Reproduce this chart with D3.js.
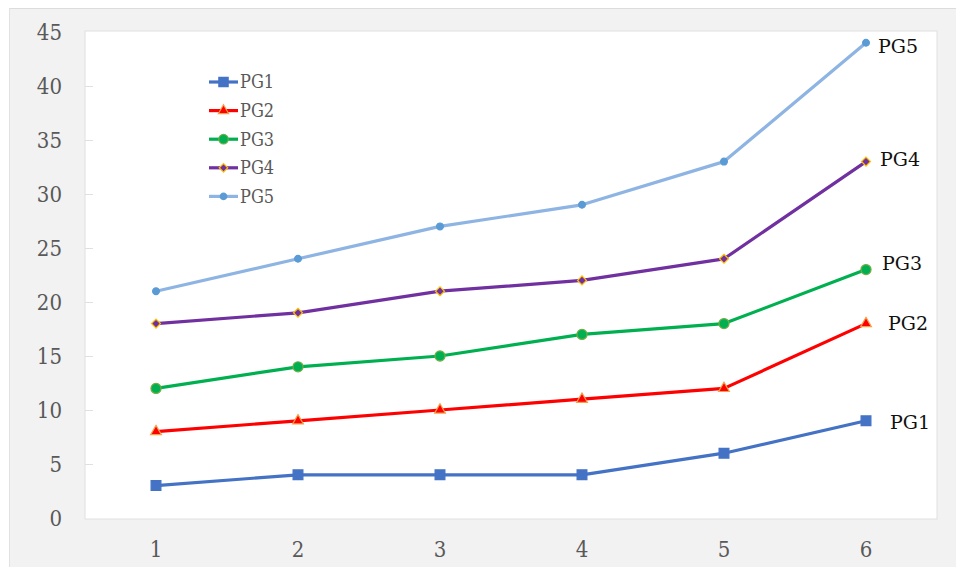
<!DOCTYPE html>
<html>
<head>
<meta charset="utf-8">
<script src="https://cdn.jsdelivr.net/npm/d3@7"></script>
<style>
  html, body { margin: 0; padding: 0; background: #ffffff; }
  svg { display: block; }
</style>
</head>
<body>
<svg id="chart" width="956" height="567"></svg>
<script>
// Categories along the x axis
const categories = ["1", "2", "3", "4", "5", "6"];
// Series values, one array per group
const pg1 = [3, 4, 4, 4, 6, 9];
const pg2 = [8, 9, 10, 11, 12, 18];
const pg3 = [12, 14, 15, 17, 18, 23];
const pg4 = [18, 19, 21, 22, 24, 33];
const pg5 = [21, 24, 27, 29, 33, 44];
const seriesNames = ["PG1", "PG2", "PG3", "PG4", "PG5"];
// Y axis tick values
const yTicks = [0, 5, 10, 15, 20, 25, 30, 35, 40, 45];

const styles = {
  PG1: { line: "#4472C4", fill: "#4472C4", stroke: "#4472C4", shape: "square", size: 96, rot: 0, labelDx: 24, labelDy: 2 },
  PG2: { line: "#FF0000", fill: "#FF0000", stroke: "#F4A04A", shape: "triangle", size: 50, rot: 0, labelDx: 22, labelDy: 0 },
  PG3: { line: "#00B050", fill: "#00B050", stroke: "#70AD47", shape: "circle", size: 80, rot: 0, labelDx: 16, labelDy: -6 },
  PG4: { line: "#7030A0", fill: "#7030A0", stroke: "#FFC000", shape: "square", size: 40, rot: 45, labelDx: 14, labelDy: -2 },
  PG5: { line: "#8EB4E3", fill: "#5B9BD5", stroke: "#5B9BD5", shape: "circle", size: 36, rot: 0, labelDx: 12, labelDy: 4 }
};
const seriesData = { PG1: pg1, PG2: pg2, PG3: pg3, PG4: pg4, PG5: pg5 };

const svg = d3.select("#chart");
const W = 956, H = 567;
const plot = { left: 85, right: 937, top: 31, bottom: 519 };
const axisFont = "'DejaVu Serif Condensed', 'DejaVu Serif', serif";
const labelFont = "'DejaVu Serif', serif";

// Gray chart panel
svg.append("rect").attr("x", 9).attr("y", 8).attr("width", W - 9).attr("height", H - 8)
  .attr("fill", "#f2f2f2");
svg.append("line").attr("x1", 9).attr("x2", W).attr("y1", 8.5).attr("y2", 8.5)
  .attr("stroke", "#dcdcdc").attr("stroke-width", 1);
svg.append("line").attr("x1", 9.5).attr("x2", 9.5).attr("y1", 8).attr("y2", H)
  .attr("stroke", "#e2e2e2").attr("stroke-width", 1);

// White plot area
svg.append("rect").attr("x", plot.left).attr("y", plot.top)
  .attr("width", plot.right - plot.left).attr("height", plot.bottom - plot.top)
  .attr("fill", "#ffffff").attr("stroke", "#e0e0e0").attr("stroke-width", 1);

const x = d3.scaleBand().domain(categories).range([plot.left, plot.right]);
const y = d3.scaleLinear().domain([0, 45]).range([518, 32]);
const cx = c => x(c) + x.bandwidth() / 2;

// Y axis labels and small ticks
const yAxis = svg.append("g").attr("transform", `translate(${plot.left},0)`)
  .call(d3.axisLeft(y).tickValues(yTicks).tickSize(0).tickPadding(23));
yAxis.select(".domain").remove();
yAxis.selectAll("text").attr("fill", "#595959").attr("font-family", axisFont)
  .attr("font-size", 22);
svg.append("g").selectAll("line").data(yTicks.slice(1, -1)).join("line")
  .attr("x1", plot.left).attr("x2", plot.left + 8)
  .attr("y1", d => Math.round(y(d)) + 0.5).attr("y2", d => Math.round(y(d)) + 0.5)
  .attr("stroke", "#e0e0e0");

// X axis labels
const xAxis = svg.append("g").attr("transform", `translate(0,${plot.bottom})`)
  .call(d3.axisBottom(x).tickSize(0).tickPadding(22));
xAxis.select(".domain").remove();
xAxis.selectAll("text").attr("fill", "#595959").attr("font-family", axisFont)
  .attr("font-size", 22);

const symbolType = { square: d3.symbolSquare, triangle: d3.symbolTriangle, circle: d3.symbolCircle };
const line = d3.line().x((d, i) => cx(categories[i])).y(d => y(d));

seriesNames.forEach(name => {
  const st = styles[name];
  const vals = seriesData[name];
  const g = svg.append("g");
  g.append("path").datum(vals).attr("d", line).attr("fill", "none")
    .attr("stroke", st.line).attr("stroke-width", 3.2).attr("stroke-linejoin", "round");
  g.selectAll("path.m").data(vals).join("path").attr("class", "m")
    .attr("transform", (d, i) => `translate(${cx(categories[i])},${y(d)}) rotate(${st.rot})`)
    .attr("d", d3.symbol().type(symbolType[st.shape]).size(st.size))
    .attr("fill", st.fill).attr("stroke", st.stroke).attr("stroke-width", 1.2);
  // End-of-line series label
  const last = vals.length - 1;
  g.append("text").attr("x", cx(categories[last]) + st.labelDx)
    .attr("y", y(vals[last]) + st.labelDy).attr("dy", "0.35em")
    .attr("font-family", labelFont).attr("font-size", 19).attr("fill", "#111")
    .text(name);
});

// Legend
const legend = svg.append("g");
seriesNames.forEach((name, i) => {
  const st = styles[name];
  const ly = 82 + i * 28.6;
  legend.append("line").attr("x1", 209).attr("x2", 238).attr("y1", ly).attr("y2", ly)
    .attr("stroke", st.line).attr("stroke-width", 3.2);
  legend.append("path").attr("transform", `translate(223.5,${ly}) rotate(${st.rot})`)
    .attr("d", d3.symbol().type(symbolType[st.shape]).size(st.size * 0.9))
    .attr("fill", st.fill).attr("stroke", st.stroke).attr("stroke-width", 1.2);
  legend.append("text").attr("x", 240).attr("y", ly).attr("dy", "0.35em")
    .attr("font-family", axisFont).attr("font-size", 18).attr("fill", "#595959")
    .text(name);
});
</script>
</body>
</html>
